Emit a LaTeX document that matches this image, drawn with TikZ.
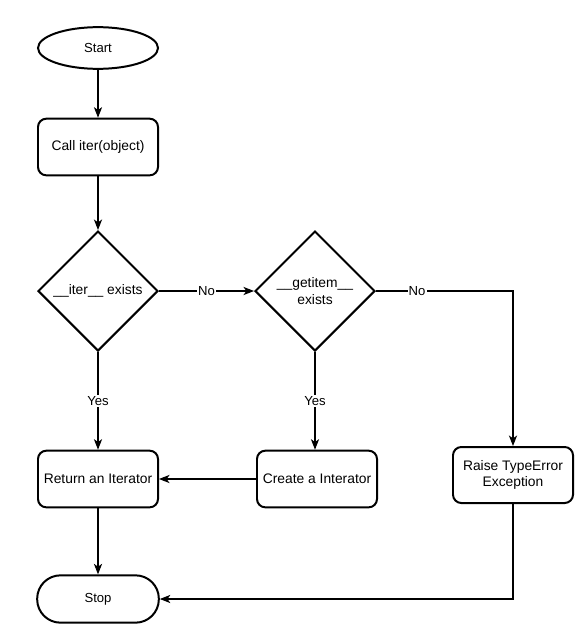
\documentclass[tikz,border=0pt]{standalone}
\usepackage{fontspec}
\setmainfont{Liberation Sans}
\usepackage{tikz}
\usetikzlibrary{shapes.geometric, arrows.meta, positioning, calc}
\tikzset{
  terminal/.style={
    ellipse, draw=black, line width=1.7pt,
    minimum width=3.6cm, minimum height=1.25cm,
    inner sep=0pt, font=\fontsize{11.2}{13}\selectfont
  },
  stopbox/.style={
    rectangle, draw=black, line width=1.7pt, rounded corners=0.7cm,
    minimum width=3.65cm, minimum height=1.42cm,
    inner sep=0pt, font=\fontsize{11.2}{13}\selectfont
  },
  process/.style={
    rectangle, draw=black, line width=1.7pt, rounded corners=0.25cm,
    minimum width=3.6cm, minimum height=1.7cm,
    inner sep=0pt, align=center, font=\fontsize{11.8}{14}\selectfont
  },
  decision/.style={
    diamond, draw=black, line width=1.7pt,
    minimum width=3.6cm, minimum height=3.6cm,
    inner sep=0pt, align=center, font=\fontsize{11.8}{14}\selectfont
  },
  % connettori
  flow/.style={-{Stealth[length=9pt,width=7pt,inset=2.5pt]}, line width=0.9pt},
  edgelabel/.style={fill=white, inner sep=1pt, font=\fontsize{11.2}{13}\selectfont}
}

\begin{document}
\begin{tikzpicture}[x=0.03cm, y=-0.03cm]
\useasboundingbox[fill=white] (0,0) rectangle (579,642);

% colonna sinistra
\node[terminal] (start) at (98,48) {Start};
\node[process] (calliter) at (98,147) {Call iter(object)};
\node[decision] (iterexists) at (98,291) {\_\_iter\_\_ exists};
\node[process] (returniter) at (98,479) {Return an Iterator};
\node[stopbox] (stop) at (98,599) {Stop};

% colonna centrale e destra
\node[decision] (getitemexists) at (315,291) {\_\_getitem\_\_\\exists};
\node[process] (createiter) at (317,479) {Create a Interator};
\node[process, minimum height=1.68cm] (raiseerror) at (513,475) {Raise TypeError\\Exception};

% collegamenti
\draw[flow] (start) -- (calliter);
\draw[flow] (calliter) -- (iterexists);
\draw[flow] (iterexists) -- node[edgelabel] {No} (getitemexists);
\draw[flow] (iterexists) -- node[edgelabel] {Yes} (returniter);
\draw[flow] (getitemexists) -- node[edgelabel] {Yes} (getitemexists |- createiter.north);
\draw[flow] (getitemexists.east) -| node[edgelabel, pos=0.15] {No} (raiseerror.north);
\draw[flow] (createiter) -- (returniter);
\draw[flow] (returniter) -- (stop);
\draw[flow] (raiseerror.south) |- (stop.east);

\end{tikzpicture}
\end{document}
